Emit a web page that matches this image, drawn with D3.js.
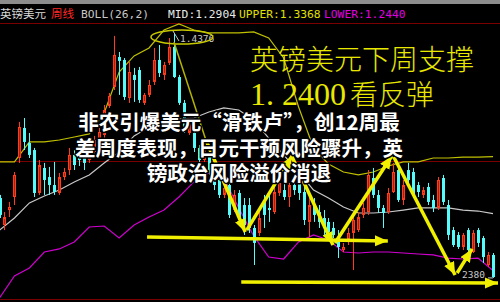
<!DOCTYPE html>
<html>
<head>
<meta charset="utf-8">
<script src="https://cdn.jsdelivr.net/npm/d3@7"></script>
<style>
  html, body { margin: 0; padding: 0; background: #000; }
  svg { display: block; }
</style>
</head>
<body>
<div id="chart"></div>
<script>
// GBP/USD weekly candles, oldest first
const opens = [
  1.3031, 1.2811, 1.2933, 1.3039, 1.3357, 1.3602, 1.3480, 1.3422, 1.3072, 1.3276,
  1.3202, 1.3137, 1.3072, 1.3202, 1.3259, 1.3382, 1.3406, 1.3374, 1.3341, 1.3406,
  1.3455, 1.3545, 1.3781, 1.3936, 1.4180, 1.4156, 1.3846, 1.4034, 1.4074, 1.3806,
  1.3871, 1.3977, 1.4156, 1.4034, 1.4132, 1.4262, 1.4017, 1.3806, 1.3561, 1.3561,
  1.3439, 1.3341, 1.3406, 1.3276, 1.3178, 1.3056, 1.3137, 1.2933, 1.3072, 1.2974,
  1.2974, 1.2787, 1.2746, 1.3015, 1.2950, 1.2917, 1.3072, 1.3096, 1.3039, 1.3137,
  1.3178, 1.3080, 1.2836, 1.2974, 1.2917, 1.2868, 1.2836, 1.2787, 1.2713, 1.2607,
  1.2689, 1.2746, 1.2770, 1.2893, 1.2917, 1.3194, 1.3056, 1.2950, 1.2917, 1.3080,
  1.3259, 1.3015, 1.3259, 1.3243, 1.3137, 1.3056, 1.3121, 1.3015, 1.2950, 1.3194,
  1.2974, 1.2770, 1.2730, 1.2632, 1.2770, 1.2591, 1.2770, 1.2705, 1.2485, 1.2567
];
const highs = [
  1.3056, 1.2917, 1.2999, 1.3243, 1.3651, 1.3683, 1.3561, 1.3439, 1.3341, 1.3317,
  1.3284, 1.3325, 1.3235, 1.3276, 1.3439, 1.3422, 1.3439, 1.3422, 1.3455, 1.3537,
  1.3602, 1.3789, 1.3887, 1.4352, 1.4221, 1.4172, 1.4140, 1.4091, 1.4099, 1.3887,
  1.3993, 1.4254, 1.4278, 1.4140, 1.4335, 1.4376, 1.4034, 1.3830, 1.3683, 1.3585,
  1.3463, 1.3447, 1.3422, 1.3341, 1.3219, 1.3154, 1.3162, 1.3096, 1.3096, 1.3031,
  1.3031, 1.2811, 1.2917, 1.3056, 1.3072, 1.3137, 1.3194, 1.3162, 1.3154, 1.3194,
  1.3219, 1.3121, 1.3072, 1.3031, 1.2974, 1.2933, 1.2868, 1.2836, 1.2770, 1.2665,
  1.2787, 1.2876, 1.2917, 1.2991, 1.3259, 1.3276, 1.3096, 1.2974, 1.3113, 1.3317,
  1.3300, 1.3178, 1.3317, 1.3276, 1.3162, 1.3121, 1.3154, 1.3056, 1.3202, 1.3219,
  1.3015, 1.2795, 1.2754, 1.2746, 1.2787, 1.2770, 1.2787, 1.2722, 1.2591, 1.2583
];
const lows = [
  1.2868, 1.2770, 1.2876, 1.2974, 1.3317, 1.3422, 1.3357, 1.3039, 1.3056, 1.3056,
  1.3056, 1.3056, 1.3056, 1.3178, 1.3219, 1.3259, 1.3292, 1.3259, 1.3317, 1.3374,
  1.3431, 1.3520, 1.3765, 1.3911, 1.3871, 1.3830, 1.3806, 1.3814, 1.3806, 1.3789,
  1.3854, 1.3952, 1.4017, 1.3993, 1.4115, 1.4009, 1.3789, 1.3561, 1.3545, 1.3406,
  1.3300, 1.3325, 1.3219, 1.3096, 1.3031, 1.3031, 1.2868, 1.2917, 1.2811, 1.2730,
  1.2746, 1.2485, 1.2722, 1.2787, 1.2836, 1.2901, 1.3048, 1.3015, 1.2958, 1.3056,
  1.3015, 1.2811, 1.2713, 1.2836, 1.2787, 1.2730, 1.2713, 1.2705, 1.2542, 1.2591,
  1.2648, 1.2444, 1.2754, 1.2868, 1.2893, 1.3031, 1.2909, 1.2787, 1.2901, 1.3072,
  1.2999, 1.2974, 1.3137, 1.3031, 1.3039, 1.3031, 1.2974, 1.2917, 1.2933, 1.2974,
  1.2689, 1.2632, 1.2616, 1.2607, 1.2583, 1.2583, 1.2632, 1.2502, 1.2469, 1.2380
];
const closes = [
  1.2893, 1.2876, 1.2958, 1.3219, 1.3610, 1.3488, 1.3382, 1.3072, 1.3300, 1.3178,
  1.3137, 1.3080, 1.3202, 1.3243, 1.3382, 1.3300, 1.3341, 1.3317, 1.3406, 1.3504,
  1.3569, 1.3748, 1.3863, 1.4197, 1.4148, 1.3854, 1.4058, 1.3993, 1.3830, 1.3871,
  1.3952, 1.4156, 1.4050, 1.4115, 1.4262, 1.4017, 1.3806, 1.3585, 1.3651, 1.3439,
  1.3341, 1.3422, 1.3259, 1.3137, 1.3056, 1.3113, 1.2893, 1.3056, 1.2852, 1.2811,
  1.2787, 1.2665, 1.2868, 1.2893, 1.2933, 1.3080, 1.3154, 1.3039, 1.3137, 1.3096,
  1.3072, 1.2852, 1.2974, 1.2893, 1.2836, 1.2787, 1.2754, 1.2730, 1.2632, 1.2632,
  1.2746, 1.2852, 1.2876, 1.2950, 1.3219, 1.3056, 1.2950, 1.2909, 1.3072, 1.3243,
  1.3015, 1.3137, 1.3178, 1.3056, 1.3080, 1.3096, 1.2999, 1.2950, 1.3178, 1.2999,
  1.2730, 1.2648, 1.2632, 1.2730, 1.2607, 1.2746, 1.2665, 1.2550, 1.2567, 1.2387
];

// BOLL(26,2) lines, read every third week
const bandWeeks = [0, 3, 6, 9, 12, 15, 18, 21, 24, 27, 30, 33, 36, 39, 42, 45, 48,
  51, 54, 57, 60, 63, 66, 69, 72, 75, 78, 81, 84, 87, 90, 93, 96, 99];
const upper = [1.3325, 1.3325, 1.3488, 1.3488, 1.3504, 1.3528, 1.3553, 1.3724, 1.4058,
  1.4189, 1.4254, 1.4400, 1.4449, 1.4400, 1.4376, 1.4376, 1.4376, 1.4384, 1.4335,
  1.4172, 1.3773, 1.3439, 1.3308, 1.3243, 1.3219, 1.3243, 1.3292, 1.3325, 1.3325,
  1.3357, 1.3357, 1.3365, 1.3365, 1.3368];
const mid = [1.2770, 1.2868, 1.2991, 1.3048, 1.3096, 1.3162, 1.3219, 1.3317, 1.3406,
  1.3537, 1.3610, 1.3659, 1.3675, 1.3683, 1.3732, 1.3765, 1.3748, 1.3667, 1.3520,
  1.3382, 1.3243, 1.3096, 1.3031, 1.2958, 1.2909, 1.2909, 1.2917, 1.2933, 1.2950,
  1.2950, 1.2950, 1.2933, 1.2925, 1.2904];
const lower = [1.2216, 1.2396, 1.2461, 1.2591, 1.2616, 1.2673, 1.2795, 1.2803, 1.2705,
  1.2811, 1.2876, 1.2933, 1.3039, 1.3162, 1.3235, 1.3194, 1.2950, 1.2722, 1.2550,
  1.2534, 1.2673, 1.2730, 1.2689, 1.2591, 1.2583, 1.2591, 1.2591, 1.2583, 1.2575,
  1.2567, 1.2542, 1.2534, 1.2542, 1.2440];

const gridPrices = [1.3325];

// hand-drawn arrows, [week, price] from -> to
const arrows = [
  [[41.4, 1.3504], [49.3, 1.2754]],
  [[49.6, 1.2770], [58.7, 1.3374]],
  [[58.7, 1.3365], [66.9, 1.2648]],
  [[67.3, 1.2665], [78.7, 1.3374]],
  [[79.1, 1.3365], [91.4, 1.2404]],
  [[91.8, 1.2420], [94.8, 1.2616]],
  [[29.6, 1.2713], [77.9, 1.2681]],
  [[48.5, 1.2347], [100.0, 1.2339]]
];
const thinLine = [[35.0, 1.4303], [41.4, 1.3504]];

const headerItems = [
  {text: '英镑美元', x: 0, color: '#d8d8d8', cjk: true},
  {text: '周线', x: 51, color: '#ff2828', cjk: true},
  {text: 'BOLL(26,2)', x: 81, color: '#c8c8c8'},
  {text: 'MID:1.2904', x: 168, color: '#e8e8e8'},
  {text: 'UPPER:1.3368', x: 239, color: '#e0e000'},
  {text: 'LOWER:1.2440', x: 324, color: '#e000e0'}
];
const noteTitle = '英镑美元下周支撑';
const noteLevel = '1. 2400';
const noteTail = '看反弹';
const titleLines = ['非农引爆美元“滑铁卢”，创12周最', '差周度表现，日元干预风险骤升，英',
  '镑政治风险溢价消退'];

const width = 500;
const height = 302;
const svg = d3.select('#chart').append('svg')
    .attr('width', width)
    .attr('height', height);

svg.append('rect').attr('width', width).attr('height', height).attr('fill', '#000');
svg.append('rect').attr('width', width).attr('height', 4).attr('fill', '#8c8c8c');

const x = d3.scaleLinear().domain([0, 99]).range([-0.5, 493]);
const y = d3.scaleLinear().domain([1.2200, 1.4449]).range([300, 24]);

// frame + grid
[1.4449, 1.2200].concat(gridPrices).forEach((p) => {
  const yy = Math.round(y(p)) - 0.5;
  svg.append('line')
      .attr('x1', 0).attr('x2', width)
      .attr('y1', yy).attr('y2', yy)
      .attr('stroke', '#7a0000');
});

// bands
const bandLine = (vals) => d3.line()
    .x((d, i) => x(bandWeeks[i]))
    .y((d) => y(d))(vals);
[[upper, '#c0c000'], [mid, '#c8c8c8'], [lower, '#d000d0']].forEach(([vals, c]) => {
  svg.append('path')
      .attr('d', bandLine(vals))
      .attr('fill', 'none')
      .attr('stroke', c)
      .attr('stroke-width', 1.2);
});

// candles
const candles = opens.map((o, i) => ({i, o, h: highs[i], l: lows[i], c: closes[i]}));
const g = svg.append('g');
candles.forEach((d) => {
  const cx = Math.round(x(d.i));
  const up = d.c >= d.o;
  const col = up ? '#ff3c1c' : '#54fcfc';
  g.append('line')
      .attr('x1', cx + 0.5).attr('x2', cx + 0.5)
      .attr('y1', y(d.h)).attr('y2', y(d.l))
      .attr('stroke', col);
  const top = y(Math.max(d.o, d.c));
  const bh = Math.max(1, Math.abs(y(d.o) - y(d.c)));
  if (up) {
    g.append('rect')
        .attr('x', cx - 0.5).attr('width', 2)
        .attr('y', top + 0.5).attr('height', Math.max(0.5, bh - 1))
        .attr('fill', '#a82010')
        .attr('stroke', col);
  } else {
    g.append('rect')
        .attr('x', cx - 1).attr('width', 3)
        .attr('y', top).attr('height', bh)
        .attr('fill', col);
  }
});

// high / low marks
const hiX = x(35);
const hiY = y(highs[35]);
svg.append('line')
    .attr('x1', hiX - 1).attr('y1', hiY - 2)
    .attr('x2', hiX + 5).attr('y2', hiY + 8)
    .attr('stroke', '#c8c8c8');
svg.append('text')
    .attr('x', hiX + 6).attr('y', hiY + 9)
    .attr('fill', '#c8c8c8')
    .attr('font-family', 'DejaVu Sans Mono')
    .attr('font-size', 9.5)
    .text(highs[35].toFixed(4));
const loX = x(99);
const loY = y(lows[99]);
svg.append('line')
    .attr('x1', loX - 5).attr('y1', loY)
    .attr('x2', loX).attr('y2', loY)
    .attr('stroke', '#c8c8c8');
svg.append('text')
    .attr('x', loX - 8).attr('y', loY)
    .attr('text-anchor', 'end')
    .attr('fill', '#c8c8c8')
    .attr('font-family', 'DejaVu Sans Mono')
    .attr('font-size', 9.5)
    .text(lows[99].toFixed(4).slice(2));

// ellipse round the top
svg.append('ellipse')
    .attr('cx', x(36.6)).attr('cy', y(1.4343))
    .attr('rx', 31).attr('ry', 7)
    .attr('fill', 'none')
    .attr('stroke', '#c8c800')
    .attr('stroke-width', 1.5);

// arrows
svg.append('defs').append('marker')
    .attr('id', 'head')
    .attr('markerUnits', 'userSpaceOnUse')
    .attr('markerWidth', 14).attr('markerHeight', 12)
    .attr('refX', 13).attr('refY', 5.5)
    .attr('orient', 'auto')
    .append('path')
    .attr('d', 'M0,0L13,5.5L0,11Z')
    .attr('fill', '#f0f000');

svg.append('line')
    .attr('x1', x(thinLine[0][0])).attr('y1', y(thinLine[0][1]))
    .attr('x2', x(thinLine[1][0])).attr('y2', y(thinLine[1][1]))
    .attr('stroke', '#b4b400')
    .attr('stroke-width', 1.5);

svg.append('g').selectAll('line')
    .data(arrows)
    .join('line')
    .attr('x1', (d) => x(d[0][0])).attr('y1', (d) => y(d[0][1]))
    .attr('x2', (d) => x(d[1][0])).attr('y2', (d) => y(d[1][1]))
    .attr('stroke', '#f0f000')
    .attr('stroke-width', 3.5)
    .attr('marker-end', 'url(#head)');

// header
svg.append('g').selectAll('text')
    .data(headerItems)
    .join('text')
    .attr('x', (d) => d.x)
    .attr('y', 18)
    .attr('fill', (d) => d.color)
    .attr('font-family', (d) => d.cjk ? 'Noto Sans CJK SC' : 'DejaVu Sans Mono')
    .attr('font-size', (d) => d.cjk ? 11.5 : 11.3)
    .text((d) => d.text);

// yellow note
const note = svg.append('g')
    .attr('fill', '#e8e800')
    .attr('font-family', '"Liberation Serif", "Noto Sans CJK SC"')
    .attr('font-weight', 300);
note.append('text')
    .attr('x', 250).attr('y', 70)
    .attr('font-size', 28)
    .text(noteTitle);
const lvl = note.append('text')
    .attr('x', 250).attr('y', 105);
lvl.append('tspan').attr('font-size', 32).text(noteLevel);
lvl.append('tspan').attr('font-size', 28).attr('dx', 4).text(noteTail);

// headline
svg.append('g').selectAll('text')
    .data(titleLines)
    .join('text')
    .attr('x', 239)
    .attr('y', (d, i) => 130 + i * 25.5)
    .attr('text-anchor', 'middle')
    .attr('fill', '#fff')
    .attr('stroke', '#000')
    .attr('stroke-width', 3)
    .attr('stroke-linejoin', 'round')
    .attr('paint-order', 'stroke')
    .attr('font-family', 'Noto Sans CJK SC')
    .attr('font-weight', 700)
    .attr('font-size', 20.5)
    .text((d) => d);
</script>
</body>
</html>
